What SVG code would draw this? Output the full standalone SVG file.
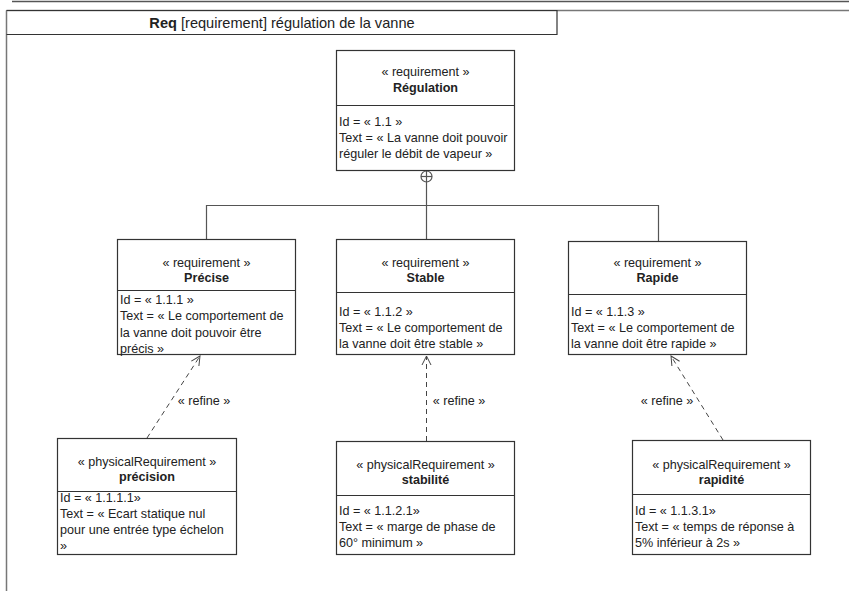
<svg xmlns="http://www.w3.org/2000/svg" width="849" height="591" viewBox="0 0 849 591">
<style>
text{font-family:"Liberation Sans",Arial,sans-serif;font-size:12.6px;fill:#222}
.st{text-anchor:middle}
.nm{text-anchor:middle;font-weight:bold}
.box{fill:#fff;stroke:#333;stroke-width:1.2}
.div{stroke:#333;stroke-width:1.2}
.frame{stroke:#777;stroke-width:1.5;fill:none}
.conn{stroke:#555;stroke-width:1.2;fill:none}
.dash{stroke:#444;stroke-width:1;fill:none;stroke-dasharray:5,4}
.lbl{text-anchor:middle}
</style>
<defs>
<marker id="open" markerWidth="12" markerHeight="12" refX="10" refY="6" orient="auto" markerUnits="userSpaceOnUse">
<path d="M1,1.5 L10,6 L1,10.5" fill="none" stroke="#444" stroke-width="1"/>
</marker>
</defs>
<rect width="849" height="591" fill="#fff"/>
<g id="frame">
<line x1="12" y1="1.5" x2="849" y2="1.5" stroke="#555" stroke-width="1.5"/>
<line class="frame" x1="6.5" y1="10.5" x2="849" y2="10.5"/>
<line class="frame" x1="6.5" y1="10.5" x2="6.5" y2="591"/>
<path d="M6.5,10.5 H557 V34.5 H6.5" fill="none" stroke="#333" stroke-width="1.2"/>
<text x="282" y="27.5" class="st" style="font-size:14.6px"><tspan font-weight="bold">Req</tspan> [requirement] régulation de la vanne</text>
</g>
<g id="connectors">
<circle cx="426.5" cy="176.5" r="5.5" class="conn"/>
<line x1="421" y1="176.5" x2="432" y2="176.5" class="conn"/>
<line x1="426.5" y1="171" x2="426.5" y2="239" class="conn"/>
<polyline points="206.5,239 206.5,205.5 658.5,205.5 658.5,241" class="conn"/>
<line x1="147" y1="438" x2="200" y2="356" class="dash" marker-end="url(#open)"/>
<line x1="426.5" y1="441" x2="426.5" y2="356" class="dash" marker-end="url(#open)"/>
<line x1="723" y1="440" x2="671" y2="356" class="dash" marker-end="url(#open)"/>
<text x="204" y="404.5" class="lbl">« refine »</text>
<text x="459" y="404.5" class="lbl">« refine »</text>
<text x="667" y="404.5" class="lbl">« refine »</text>
</g>
<g id="regulation">
<rect x="336.5" y="50.5" width="178" height="120" class="box"/>
<line x1="336.5" y1="105.5" x2="514.5" y2="105.5" class="div"/>
<text x="425.5" y="75.5" class="st">« requirement »</text>
<text x="425.5" y="91.5" class="nm">Régulation</text>
<text x="339" y="125.5">Id = « 1.1 »</text>
<text x="339" y="141.5">Text = « La vanne doit pouvoir</text>
<text x="339" y="157.5">réguler le débit de vapeur »</text>
</g>
<g id="precise">
<rect x="117.5" y="239.5" width="178" height="115" class="box"/>
<line x1="117.5" y1="290.5" x2="295.5" y2="290.5" class="div"/>
<text x="206.5" y="266.5" class="st">« requirement »</text>
<text x="206.5" y="282" class="nm">Précise</text>
<text x="120" y="303.5">Id = « 1.1.1 »</text>
<text x="120" y="320">Text = « Le comportement de</text>
<text x="120" y="336.5">la vanne doit pouvoir être</text>
<text x="120" y="353">précis »</text>
</g>
<g id="stable">
<rect x="336.5" y="239.5" width="178" height="115" class="box"/>
<line x1="336.5" y1="292.5" x2="514.5" y2="292.5" class="div"/>
<text x="425.5" y="266.5" class="st">« requirement »</text>
<text x="425.5" y="282" class="nm">Stable</text>
<text x="339" y="315.5">Id = « 1.1.2 »</text>
<text x="339" y="331.5">Text = « Le comportement de</text>
<text x="339" y="347.5">la vanne doit être stable »</text>
</g>
<g id="rapide">
<rect x="568.5" y="241.5" width="178" height="113" class="box"/>
<line x1="568.5" y1="294.5" x2="746.5" y2="294.5" class="div"/>
<text x="657.5" y="266.5" class="st">« requirement »</text>
<text x="657.5" y="282" class="nm">Rapide</text>
<text x="571" y="315.5">Id = « 1.1.3 »</text>
<text x="571" y="331.5">Text = « Le comportement de</text>
<text x="571" y="347.5">la vanne doit être rapide »</text>
</g>
<g id="precision">
<rect x="57.5" y="438.5" width="179" height="116" class="box"/>
<line x1="57.5" y1="491.5" x2="236.5" y2="491.5" class="div"/>
<text x="147" y="466" class="st">« physicalRequirement »</text>
<text x="147" y="480.5" class="nm">précision</text>
<text x="60" y="502">Id = « 1.1.1.1»</text>
<text x="60" y="518">Text = « Ecart statique nul</text>
<text x="60" y="534">pour une entrée type échelon</text>
<text x="60" y="550">»</text>
</g>
<g id="stabilite">
<rect x="336.5" y="441.5" width="178" height="113" class="box"/>
<line x1="336.5" y1="495.5" x2="514.5" y2="495.5" class="div"/>
<text x="425.5" y="468.5" class="st">« physicalRequirement »</text>
<text x="425.5" y="483.5" class="nm">stabilité</text>
<text x="339" y="514.5">Id = « 1.1.2.1»</text>
<text x="339" y="530.5">Text = « marge de phase de</text>
<text x="339" y="546.5">60° minimum »</text>
</g>
<g id="rapidite">
<rect x="632.5" y="440.5" width="178" height="114" class="box"/>
<line x1="632.5" y1="494.5" x2="810.5" y2="494.5" class="div"/>
<text x="721.5" y="468.5" class="st">« physicalRequirement »</text>
<text x="721.5" y="483.5" class="nm">rapidité</text>
<text x="635" y="514.5">Id = « 1.1.3.1»</text>
<text x="635" y="530.5">Text = « temps de réponse à</text>
<text x="635" y="546.5">5% inférieur à 2s »</text>
</g>
</svg>
